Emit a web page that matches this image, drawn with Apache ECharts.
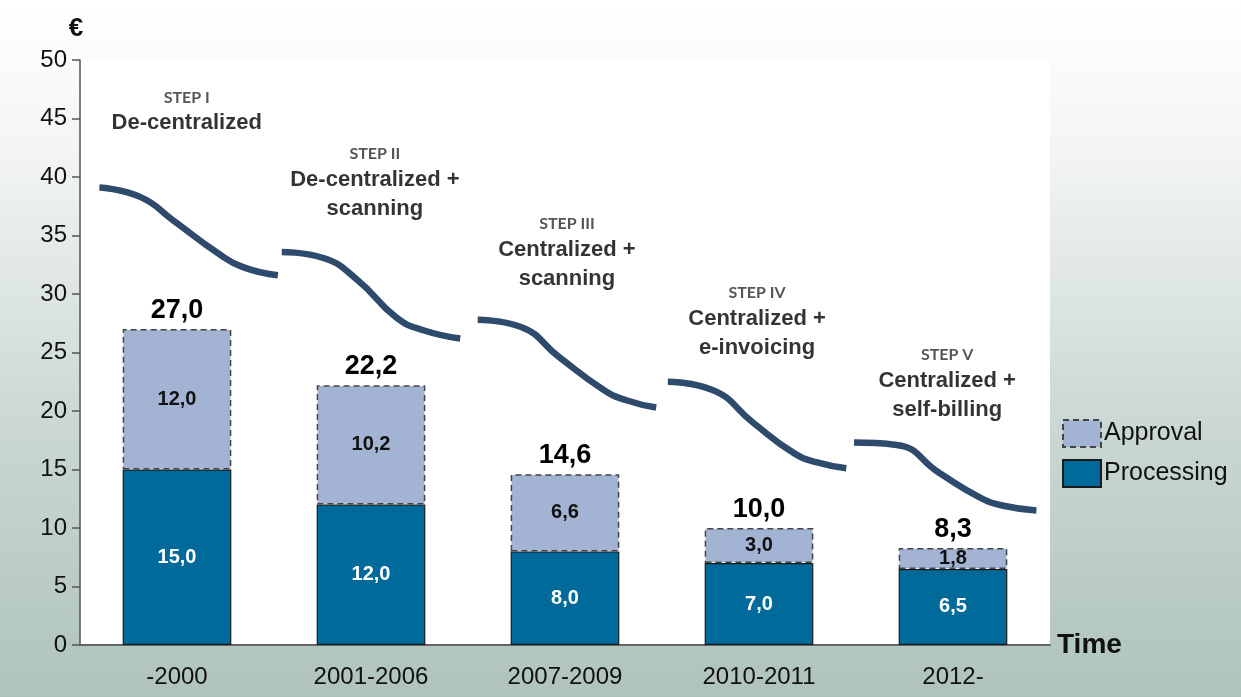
<!DOCTYPE html>
<html>
<head>
<meta charset="utf-8">
<script src="https://cdn.jsdelivr.net/npm/echarts@6/dist/echarts.min.js"></script>
<style>
  html, body { margin: 0; padding: 0; }
  #chart { width: 1241px; height: 697px; }
</style>
</head>
<body>
<div id="chart"></div>
<script>
// periods on the x axis
const periods = ['-2000', '2001-2006', '2007-2009', '2010-2011', '2012-']
// cost per invoice (€)
const processing = [15.0, 12.0, 8.0, 7.0, 6.5]
const approval = [12.0, 10.2, 6.6, 3.0, 1.8]
const totals = [27.0, 22.2, 14.6, 10.0, 8.3]
const yTicks = [0, 5, 10, 15, 20, 25, 30, 35, 40, 45, 50]

// step captions
const stepNames = ['STEP I', 'STEP II', 'STEP III', 'STEP IV', 'STEP V']
const stepTexts = [
  'De-centralized',
  'De-centralized +\nscanning',
  'Centralized +\nscanning',
  'Centralized +\ne-invoicing',
  'Centralized +\nself-billing'
]

// decorative downward curves, [x in category units, €]
const curve1 = [[0.10, 39.1], [0.31, 38.3], [0.48, 36.3], [0.71, 33.5], [0.84, 32.3], [1.02, 31.6]]
const curve2 = [[1.04, 33.6], [1.25, 33.1], [1.43, 31.2], [1.63, 28.0], [1.77, 26.9], [1.96, 26.2]]
const curve3 = [[2.05, 27.8], [2.27, 27.2], [2.47, 24.6], [2.70, 21.8], [2.82, 20.9], [2.97, 20.3]]
const curve4 = [[3.03, 22.5], [3.26, 21.8], [3.47, 19.0], [3.68, 16.4], [3.80, 15.6], [3.95, 15.1]]
const curve5 = [[3.99, 17.3], [4.21, 17.1], [4.43, 14.7], [4.64, 12.6], [4.76, 11.9], [4.93, 11.5]]

const fmt = v => v.toFixed(1).replace('.', ',')
const FONT = 'Liberation Sans, Arial, sans-serif'

var myChart = echarts.init(document.getElementById('chart'))

// caption anchors (top centre of each text block)
const stepAnchors = [[0.55, 47.7], [1.52, 42.9], [2.51, 36.9], [3.49, 31.0], [4.47, 25.7]]

const curveSeries = [curve1, curve2, curve3, curve4, curve5].map(c => ({
  type: 'line',
  xAxisIndex: 1,
  data: c,
  smooth: 0.5,
  symbol: 'none',
  silent: true,
  lineStyle: { color: '#2e4a6d', width: 6.5, cap: 'butt' },
  z: 3
}))

myChart.setOption({
  backgroundColor: new echarts.graphic.LinearGradient(0, 0, 0, 1, [
    { offset: 0, color: '#ffffff' },
    { offset: 0.2, color: '#f4f6f5' },
    { offset: 0.6, color: '#cbd8d4' },
    { offset: 1, color: '#afc3bc' }
  ]),
  textStyle: { fontFamily: FONT },
  grid: {
    left: 80,
    right: 191,
    top: 60,
    bottom: 52,
    show: true,
    backgroundColor: '#ffffff',
    borderWidth: 0
  },
  legend: {
    data: [
      { name: 'Approval', itemStyle: { color: '#a2b3d3', borderColor: '#444', borderWidth: 2, borderType: [6, 4] } },
      { name: 'Processing', itemStyle: { color: '#006b9b', borderColor: '#1a1a1a', borderWidth: 2 } }
    ],
    orient: 'vertical',
    left: 1057,
    top: 414,
    itemWidth: 38,
    itemHeight: 27,
    itemGap: 11,
    icon: 'rect',
    textStyle: { fontFamily: FONT, fontSize: 25, color: '#111', padding: [0, 0, 0, -2] }
  },
  xAxis: [
    {
      type: 'category',
      data: periods,
      name: 'Time',
      nameLocation: 'end',
      nameGap: 7,
      nameTextStyle: { fontFamily: FONT, fontSize: 28, fontWeight: 'bold', color: '#111', verticalAlign: 'middle', padding: [6, 0, 0, 0] },
      axisLine: { lineStyle: { color: '#666', width: 2 } },
      axisTick: { show: false },
      axisLabel: { fontFamily: FONT, fontSize: 24, color: '#111', margin: 20 }
    },
    {
      type: 'value',
      min: 0,
      max: 5,
      show: false
    }
  ],
  yAxis: {
    type: 'value',
    min: yTicks[0],
    max: yTicks[yTicks.length - 1],
    interval: yTicks[1] - yTicks[0],
    name: '€',
    nameGap: 18,
    nameTextStyle: { fontFamily: FONT, fontSize: 26, fontWeight: 'bold', color: '#111', align: 'center', padding: [0, 8, 0, 0] },
    axisLine: { show: true, lineStyle: { color: '#555', width: 1.5 } },
    axisTick: { show: true, length: 8, lineStyle: { color: '#555', width: 1.5 } },
    axisLabel: { fontFamily: FONT, fontSize: 24, color: '#111', margin: 13 },
    splitLine: { show: false }
  },
  series: [
    {
      name: 'Processing',
      type: 'bar',
      stack: 'cost',
      barWidth: '56%',
      data: processing,
      itemStyle: { color: '#006b9b', borderColor: '#1a1a1a', borderWidth: 1.2 },
      label: {
        show: true,
        position: 'inside',
        color: '#ffffff',
        fontFamily: FONT,
        fontSize: 20,
        fontWeight: 'bold',
        formatter: p => fmt(p.value)
      },
      z: 2
    },
    {
      name: 'Approval',
      type: 'bar',
      stack: 'cost',
      data: approval,
      itemStyle: { color: '#a2b3d3', borderColor: '#444', borderWidth: 1.5, borderType: [6, 4] },
      label: {
        show: true,
        position: 'inside',
        color: '#111',
        fontFamily: FONT,
        fontSize: 20,
        fontWeight: 'bold',
        formatter: p => fmt(p.value)
      },
      z: 2
    },
    {
      name: 'Total',
      type: 'bar',
      stack: 'cost',
      data: totals.map(() => 0),
      itemStyle: { color: 'transparent' },
      label: {
        show: true,
        position: 'top',
        distance: 5,
        color: '#000',
        fontFamily: FONT,
        fontSize: 27,
        fontWeight: 'bold',
        formatter: p => fmt(totals[p.dataIndex])
      },
      silent: true
    },
    ...curveSeries,
    {
      type: 'scatter',
      xAxisIndex: 1,
      data: stepAnchors,
      symbolSize: 0,
      silent: true,
      label: {
        show: true,
        position: 'bottom',
        distance: 0,
        align: 'center',
        formatter: p => '{s|' + stepNames[p.dataIndex] + '}\n{m|' + stepTexts[p.dataIndex].split('\n').join('}\n{m|') + '}',
        rich: {
          s: { fontFamily: 'Lato, sans-serif', fontSize: 16, fontWeight: 'bold', color: '#2a2a2a', lineHeight: 22, align: 'center' },
          m: { fontFamily: FONT, fontSize: 22, fontWeight: 'bold', color: '#000', lineHeight: 29, align: 'center' }
        }
      }
    }
  ]
})
</script>
</body>
</html>
